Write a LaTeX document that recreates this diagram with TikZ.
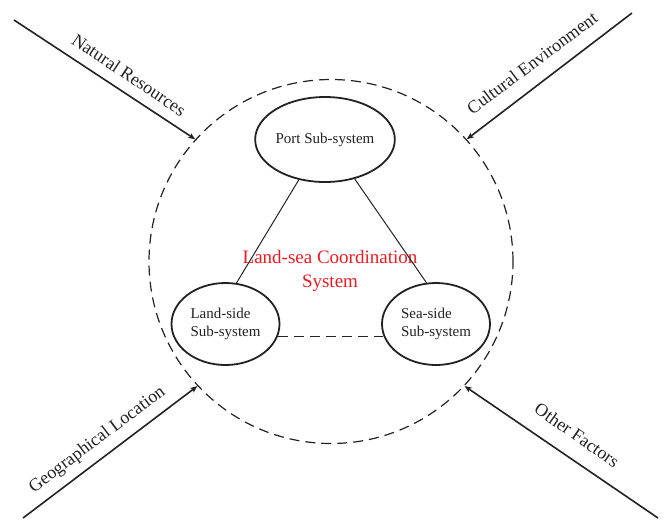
\documentclass[tikz,border=0pt]{standalone}
\usepackage{fontspec}
\setmainfont{Liberation Serif}
\usetikzlibrary{arrows.meta,shapes.geometric}
\definecolor{ink}{RGB}{34,34,34}
\definecolor{sysred}{RGB}{232,28,36}
\begin{document}
\begin{tikzpicture}[x=1pt,y=-1pt,
  subsys/.style={draw=ink,line width=1.8pt,ellipse,inner sep=0pt,
    minimum width=108pt,minimum height=82pt,text=ink,
    font=\fontsize{15}{18}\selectfont},
  link/.style={draw=ink,line width=1pt},
  weaklink/.style={draw=ink,line width=1.1pt,dash pattern=on 10pt off 6pt},
  factor/.style={draw=ink,line width=1.6pt,-{Stealth[length=7pt,width=5.5pt,inset=1.5pt]}},
  factorlabel/.style={text=ink,inner sep=0pt,font=\fontsize{18}{21}\selectfont}]
\useasboundingbox (0,0) rectangle (666,520);

% system boundary
\node[draw=ink,line width=1.2pt,dash pattern=on 10pt off 6pt,circle,
  minimum size=364pt,inner sep=0pt] (sys) at (331,261.5) {};

% sub-systems
\node[subsys,minimum width=116pt,minimum height=85pt] (port) at (325,139.5) {Port Sub-system};
\node[subsys] (land) at (225.5,324) {\begin{tabular}{@{}l@{}}Land-side\\Sub-system\end{tabular}};
\node[subsys] (sea) at (436,324) {\begin{tabular}{@{}l@{}}Sea-side\\Sub-system\end{tabular}};

\node[text=sysred,align=center,inner sep=0pt,
  font=\fontsize{19}{24}\selectfont] (title) at (330,271) {Land-sea Coordination\\System};

% links between the sub-systems
\draw[link] (port.237) -- (land.75);
\draw[link] (port.307) -- (sea.103);
\draw[weaklink] (land.-13) -- (sea.193);

% external factors
\coordinate (nr) at (14,20);
\coordinate (ce) at (632,13);
\coordinate (gl) at (23,518);
\coordinate (of) at (658,518);
\draw[factor] (nr) -- (sys.138.6);
\draw[factor] (ce) -- (sys.42.7);
\draw[factor] (gl) -- (sys.223.1);
\draw[factor] (of) -- (sys.317.8);

\node[factorlabel,rotate=-33.8] (nrl) at (129,75) {Natural Resources};
\node[factorlabel,rotate=36.8] (cel) at (532,63) {Cultural Environment};
\node[factorlabel,rotate=37] (gll) at (97.5,440) {Geographical Location};
\node[factorlabel,rotate=-35] (ofl) at (577,435) {Other Factors};
\end{tikzpicture}
\end{document}
